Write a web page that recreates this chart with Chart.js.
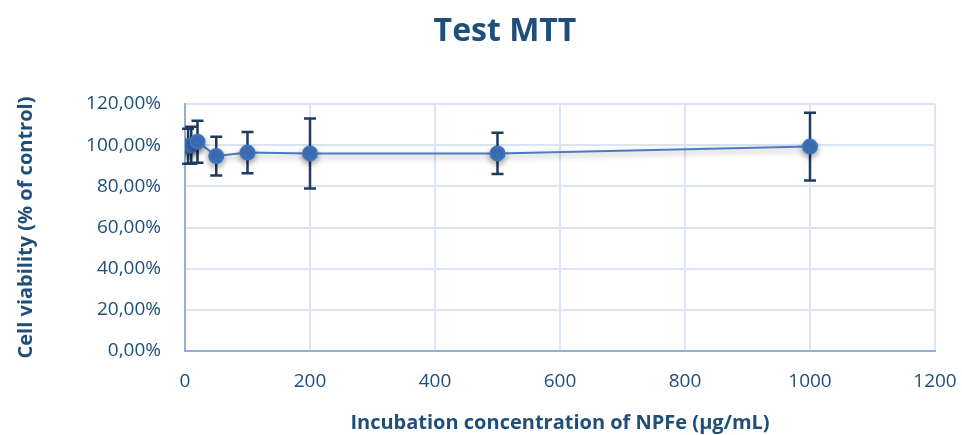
<!DOCTYPE html>
<html>
<head>
<meta charset="utf-8">
<script src="https://cdn.jsdelivr.net/npm/chart.js@4"></script>
<style>
  body { margin: 0; background: #fff; }
  #wrap { position: relative; width: 962px; height: 435px; }
  #title {
    position: absolute; left: 0; top: 7px; width: 1010px; text-align: center;
    font-family: "Open Sans", sans-serif; font-weight: bold; font-size: 32px; color: #1f4e79;
  }
</style>
</head>
<body>
<div id="wrap">
  <div id="title">Test MTT</div>
  <canvas id="mttChart" width="962" height="435"></canvas>
</div>
<script>
// data
const concentrations = [5, 10, 20, 50, 100, 200, 500, 1000];
const viability = [99.5, 100.0, 101.7, 94.7, 96.4, 96.0, 96.0, 99.3];
const errors = [8.5, 9.0, 10.2, 9.4, 10.0, 17.0, 10.0, 16.5];
const xTicks = [0, 200, 400, 600, 800, 1000, 1200];
const yTicks = [0, 20, 40, 60, 80, 100, 120];

const navy = "#1f4e79";
const gridBlue = "#d9e4f4";

// draw error bars behind the points, using the chart's scales
const errorBarPlugin = {
  id: "errorBars",
  beforeDatasetsDraw(chart) {
    const { ctx, scales } = chart;
    ctx.save();
    ctx.strokeStyle = "#203a5e";
    ctx.lineWidth = 2.5;
    concentrations.forEach((c, i) => {
      const x = scales.x.getPixelForValue(c);
      const yTop = scales.y.getPixelForValue(viability[i] + errors[i]);
      const yBot = scales.y.getPixelForValue(viability[i] - errors[i]);
      ctx.beginPath();
      ctx.moveTo(x, yTop);
      ctx.lineTo(x, yBot);
      ctx.moveTo(x - 6, yTop);
      ctx.lineTo(x + 6, yTop);
      ctx.moveTo(x - 6, yBot);
      ctx.lineTo(x + 6, yBot);
      ctx.stroke();
    });
    ctx.restore();
  }
};

// soft shadow under the line like the original
const shadowPlugin = {
  id: "lineShadow",
  beforeDatasetDraw(chart) {
    const ctx = chart.ctx;
    ctx.save();
    ctx.shadowColor = "rgba(0,0,0,0.35)";
    ctx.shadowBlur = 6;
    ctx.shadowOffsetY = 3;
  },
  afterDatasetDraw(chart) {
    chart.ctx.restore();
  }
};

const ctx = document.getElementById("mttChart").getContext("2d");
new Chart(ctx, {
  type: "line",
  data: {
    datasets: [
      {
        label: "MTT",
        data: concentrations.map((c, i) => ({ x: c, y: viability[i] })),
        borderColor: "#4a7cc4",
        borderWidth: 2,
        backgroundColor: "#3f73bf",
        pointBackgroundColor: "#3f73bf",
        pointBorderColor: "#3f73bf",
        pointRadius: 7,
        tension: 0,
      },
    ],
  },
  options: {
    responsive: false,
    animation: false,
    layout: { padding: { top: 104, right: 27, left: 0, bottom: 0 } },
    plugins: {
      legend: { display: false },
      tooltip: { enabled: false },
    },
    scales: {
      x: {
        type: "linear",
        min: 0,
        max: 1200,
        afterBuildTicks: (scale) => { scale.ticks = xTicks.map((v) => ({ value: v })); },
        afterFit: (scale) => {
          scale.height = 84;
          scale.paddingLeft = 0;
          scale.paddingRight = 0;
        },
        grid: { color: gridBlue, lineWidth: 2, drawTicks: false },
        border: { color: "#8fb0dd", width: 2 },
        ticks: {
          color: navy,
          padding: 19,
          font: { family: "Open Sans", size: 19 },
          callback: (v) => String(v),
        },
        title: {
          display: true,
          text: "Incubation concentration of NPFe (µg/mL)",
          color: navy,
          font: { family: "Open Sans", size: 20, weight: "bold" },
          padding: { top: 0, bottom: 0 },
        },
      },
      y: {
        min: 0,
        max: 120,
        afterBuildTicks: (scale) => { scale.ticks = yTicks.map((v) => ({ value: v })); },
        afterFit: (scale) => {
          scale.width = 185;
          scale.paddingTop = 0;
          scale.paddingBottom = 0;
        },
        grid: { color: gridBlue, lineWidth: 2, drawTicks: false },
        border: { color: "#8fb0dd", width: 2 },
        ticks: {
          color: navy,
          padding: 24,
          font: { family: "Open Sans", size: 19 },
          callback: (v) => v.toFixed(2).replace(".", ",") + "%",
        },
        title: {
          display: true,
          text: "Cell viability (% of control)",
          color: navy,
          font: { family: "Open Sans", size: 20, weight: "bold" },
          padding: { top: 14, bottom: 0 },
        },
      },
    },
  },
  plugins: [errorBarPlugin, shadowPlugin],
});
</script>
</body>
</html>
